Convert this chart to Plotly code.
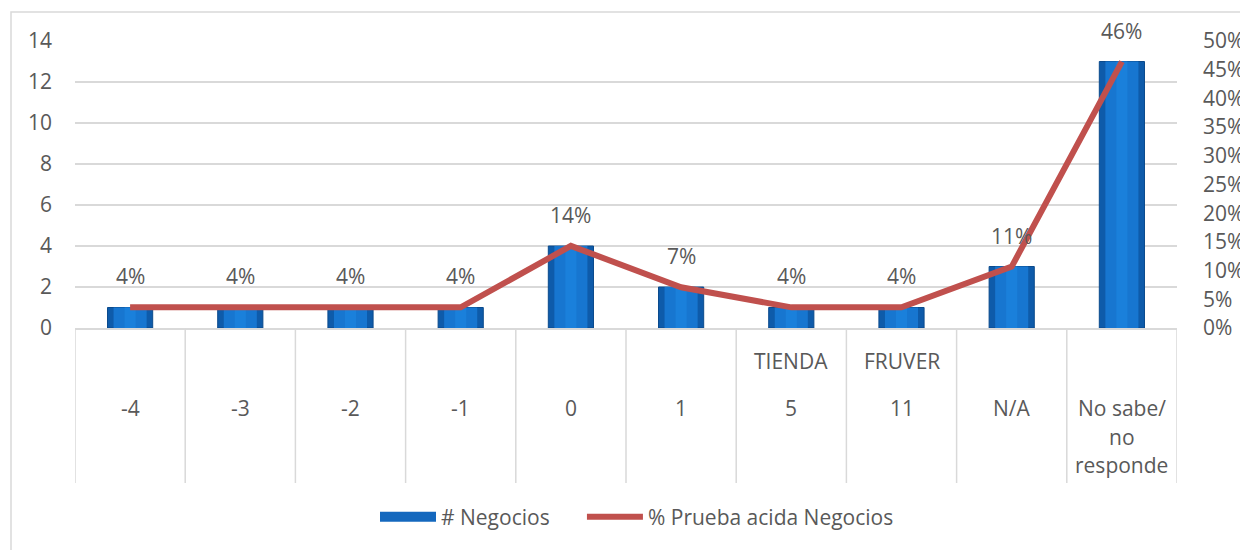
import plotly.graph_objects as go

# ---- data ----
categories = ["-4", "-3", "-2", "-1", "0", "1", "5", "11", "N/A", "No sabe/\nno\nresponde"]
group_labels = ["", "", "", "", "", "", "TIENDA", "FRUVER", "", ""]
negocios = [1, 1, 1, 1, 4, 2, 1, 1, 3, 13]
pct_prueba = [0.036, 0.036, 0.036, 0.036, 0.143, 0.071, 0.036, 0.036, 0.107, 0.464]
left_ticks = [0, 2, 4, 6, 8, 10, 12, 14]
right_ticks = [0, 0.05, 0.10, 0.15, 0.20, 0.25, 0.30, 0.35, 0.40, 0.45, 0.50]

FONT = "Open Sans"
FS = 21
TXT = "#595959"
GRID = "#D9D9D9"
BAR_NAME = "# Negocios"
LINE_NAME = "% Prueba acida Negocios"

idx = list(range(len(categories)))

# page body has an 8px margin in the browser, compensate in the figure margins
OFF = 8
L, T, R, B = 75 - OFF, 41 - OFF, 71 + OFF, 222 + OFF
plot_w = 1248 - L - R
plot_h = 550 - T - B

fig = go.Figure()

# base (darker) bar
fig.add_trace(go.Bar(
    x=idx, y=negocios, name=BAR_NAME, width=0.41, showlegend=False,
    marker=dict(color="#0E5BAA", line=dict(color="#0B4A8C", width=1)),
    hoverinfo="y",
))
# lighter inner bands to mimic cylinder shading
fig.add_trace(go.Bar(
    x=idx, y=negocios, width=0.30, showlegend=False, hoverinfo="skip",
    marker=dict(color="#1776D0", line=dict(width=0)),
))
fig.add_trace(go.Bar(
    x=idx, y=negocios, width=0.10, showlegend=False, hoverinfo="skip",
    marker=dict(color="#1A80DB", line=dict(width=0)),
))
# legend proxy for the bars (wide blue swatch like the original)
fig.add_trace(go.Scatter(
    x=[None], y=[None], mode="lines", name=BAR_NAME + "\u00a0" * 5,
    line=dict(color="#1468BE", width=12),
))

fig.add_trace(go.Scatter(
    x=idx, y=pct_prueba, name=LINE_NAME, yaxis="y2", mode="lines",
    line=dict(color="#C0504D", width=6),
))

annotations = []
# data labels above line points
for i, v in zip(idx, pct_prueba):
    annotations.append(dict(
        x=i, y=v, xref="x", yref="y2", text=f"{round(v*100)}%",
        showarrow=False, yshift=31, font=dict(family=FONT, size=FS, color=TXT),
    ))
# category labels (two levels) in the table under the axis
for i, (g, c) in enumerate(zip(group_labels, categories)):
    if g:
        annotations.append(dict(
            x=i, y=0, xref="x", yref="paper", text=g, showarrow=False,
            yanchor="middle", yshift=-33, font=dict(family=FONT, size=FS, color=TXT),
        ))
    for k, line in enumerate(c.split("\n")):
        annotations.append(dict(
            x=i, y=0, xref="x", yref="paper", text=line, showarrow=False,
            yanchor="middle", yshift=-80 - 28.5 * k,
            font=dict(family=FONT, size=FS, color=TXT),
        ))

shapes = []
for k in range(len(categories) + 1):
    shapes.append(dict(
        type="line", xref="x", yref="paper", x0=k - 0.5, x1=k - 0.5,
        y0=0, y1=-(483 - 328) / plot_h, line=dict(color=GRID, width=1.5),
    ))
# outer chart border (left/top visible)
shapes.append(dict(
    type="rect", xref="paper", yref="paper",
    x0=(11 - 75) / plot_w, x1=1.5, y0=-2, y1=(328 - 12) / plot_h,
    line=dict(color=GRID, width=1.5), layer="below",
))

fig.update_layout(
    width=1248, height=550,
    margin=dict(l=L, r=R, t=T, b=B),
    paper_bgcolor="white", plot_bgcolor="white",
    barmode="overlay",
    font=dict(family=FONT, size=FS, color=TXT),
    showlegend=True,
    legend=dict(orientation="h", x=(637 - 75) / plot_w, xanchor="center",
                y=(328 - 517) / plot_h, yanchor="middle",
                font=dict(family=FONT, size=FS, color=TXT),
                itemwidth=56, bgcolor="rgba(0,0,0,0)"),
    xaxis=dict(range=[-0.5, len(categories) - 0.5], showticklabels=False,
               showgrid=False, zeroline=False, showline=True, linecolor=GRID,
               linewidth=1.5, ticks=""),
    yaxis=dict(range=[0, 14], tickvals=left_ticks, showgrid=True, gridcolor=GRID,
               gridwidth=1.5, zeroline=False, showline=False, ticks="",
               ticklabelstandoff=22, tickfont=dict(family=FONT, size=FS, color=TXT)),
    yaxis2=dict(range=[0, 0.5], tickvals=right_ticks, tickformat=".0%",
                overlaying="y", side="right", showgrid=False, zeroline=False,
                showline=False, ticks="", ticklabelstandoff=25,
                tickfont=dict(family=FONT, size=FS, color=TXT)),
    annotations=annotations,
    shapes=shapes,
)

fig.write_html("out.html")
